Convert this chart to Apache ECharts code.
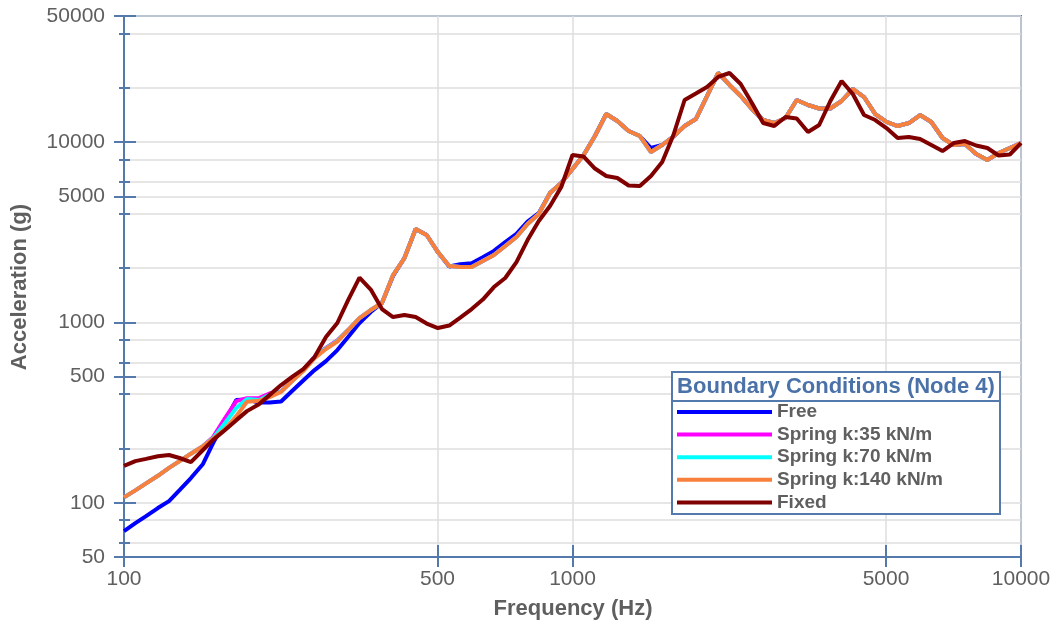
<!DOCTYPE html>
<html><head><meta charset="utf-8">
<script src="https://cdn.jsdelivr.net/npm/echarts@6/dist/echarts.min.js"></script>
<style>html,body{margin:0;padding:0;background:#fff}#c{width:1054px;height:625px}</style>
</head><body><div id="c"></div>
<script>
// Frequency points (Hz), 1/40-decade spacing
const freq = [100,106,112,119,126,133,141,150,158,168,178,188,200,211,224,237,251,266,282,299,316,335,355,376,398,422,447,473,501,531,562,596,631,668,708,750,794,841,891,944,1000,1059,1122,1189,1259,1334,1413,1496,1585,1679,1778,1884,1995,2113,2239,2371,2512,2661,2818,2985,3162,3350,3548,3758,3981,4217,4467,4732,5012,5309,5623,5957,6310,6683,7079,7499,7943,8414,8913,9441,10000];

const free = [69.6,77.1,84.3,93.4,102,117.5,137,164,214,284,
  371,373,359,359,364,416,476,544,610,702,
  829,992,1141,1280,1810,2274,3293,3051,2455,2040,
  2100,2130,2300,2490,2790,3100,3620,4030,5216,5927,
  7087,8476,10800,14300,13080,11510,10800,9266,9627,10730,
  12270,13420,18000,24150,20720,18000,15250,13250,12750,13590,
  17110,16050,15350,15350,16890,19690,17770,14300,12920,12270,
  12750,14120,12920,10530,9627,9752,8583,7952,8695,9266,9876];

const spring35 = [107,117,128,141,156,170,187,206,231,295,
  366,380,380,403,414,473,545,645,722,795,
  907,1057,1171,1280,1830,2274,3293,3051,2455,2053,
  2027,2027,2189,2363,2651,2974,3511,3989,5216,5927,
  7087,8476,10800,14300,13080,11510,10800,8804,9627,10730,
  12270,13420,18000,24150,20720,18000,15250,13250,12750,13590,
  17110,16050,15350,15350,16890,19690,17770,14300,12920,12270,
  12750,14120,12920,10530,9627,9752,8583,7952,8695,9266,9876];

const spring70 = [107,117,128,141,156,170,187,206,228,277,
  335,376,371,395,413,473,541,640,718,790,
  907,1057,1171,1280,1830,2274,3293,3051,2455,2053,
  2027,2027,2189,2363,2651,2974,3511,3989,5216,5927,
  7087,8476,10800,14300,13080,11510,10800,8804,9627,10730,
  12270,13420,18000,24150,20720,18000,15250,13250,12750,13590,
  17110,16050,15350,15350,16890,19690,17770,14300,12920,12270,
  12750,14120,12920,10530,9627,9752,8583,7952,8695,9266,9876];

const spring140 = [107,117,128,141,156,170,187,206,227,256,
  302,363,368,385,412,473,537,634,712,783,
  907,1057,1171,1280,1830,2274,3293,3051,2455,2053,
  2027,2027,2189,2363,2651,2974,3511,3989,5216,5927,
  7087,8476,10800,14300,13080,11510,10800,8804,9627,10730,
  12270,13420,18000,24150,20720,18000,15250,13250,12750,13590,
  17110,16050,15350,15350,16890,19690,17770,14300,12920,12270,
  12750,14120,12920,10530,9627,9752,8583,7952,8695,9266,9876];

const fixed = [160,170,175,181,184,177,168,196,223,253,
  287,322,352,395,449,498,551,642,829,992,
  1330,1773,1521,1186,1070,1098,1070,985,930,960,
  1064,1186,1338,1570,1762,2161,2862,3648,4418,5631,
  8476,8313,7133,6480,6317,5741,5704,6480,7749,10940,
  17110,18590,20200,22950,24150,20990,16460,12750,12270,13760,
  13500,11360,12430,16890,21800,18470,14120,13250,11960,10530,
  10660,10390,9627,8916,9876,10130,9568,9266,8421,8528,9876];

const seriesNames = ['Free','Spring k:35 kN/m','Spring k:70 kN/m','Spring k:140 kN/m','Fixed'];
const seriesColors = ['#0000ff','#ff00ff','#00ffff','#f8803c','#800000'];
const seriesValues = [free, spring35, spring70, spring140, fixed];

const xTickValues = [100,500,1000,5000,10000];
const yLabelValues = [50,100,500,1000,5000,10000,50000];
const yMinorValues = [60,80,200,400,600,800,2000,4000,6000,8000,20000,40000];
const xMin = 100, xMax = 10000, yMin = 50, yMax = 50000;

const FONT = '"Liberation Sans", Arial, sans-serif';
const AXIS_BLUE = '#5479ad';
const GRID_GREY = '#dedede';
const TEXT_GREY = '#5f5f5f';

const lx0 = Math.log10(xMin), lx1 = Math.log10(xMax);
const ly0 = Math.log10(yMin), ly1 = Math.log10(yMax);
const lg = a => a.map(v => Math.log10(v));
const fmt = v => String(Math.round(Math.pow(10, v)));

const chart = echarts.init(document.getElementById('c'), null, {renderer: 'canvas'});
const yGridValues = yLabelValues.concat(yMinorValues).sort((a, b) => a - b);

const option = {
  animation: false,
  backgroundColor: '#fff',
  textStyle: {fontFamily: FONT},
  grid: {left: 124, right: 33, top: 16, bottom: 68, show: true, borderColor: AXIS_BLUE, borderWidth: 2, containLabel: false, outerBoundsMode: 'none'},
  xAxis: [
    {type: 'log', logBase: 10, min: xMin, max: xMax, show: false},
    {type: 'value', min: lx0, max: lx1, position: 'bottom',
      axisLine: {show: true, lineStyle: {color: AXIS_BLUE, width: 2}},
      axisTick: {show: false, customValues: lg(xTickValues)},
      splitLine: {show: true, lineStyle: {color: GRID_GREY, width: 1.5}},
      axisLabel: {customValues: lg(xTickValues), formatter: fmt, margin: 12, fontSize: 21, color: TEXT_GREY, fontFamily: FONT}},
    {type: 'value', min: lx0, max: lx1, position: 'bottom', offset: -12,
      axisLine: {show: false}, splitLine: {show: false}, axisLabel: {show: false},
      axisTick: {show: true, customValues: lg(xTickValues), length: 22, lineStyle: {color: AXIS_BLUE, width: 2}}}
  ],
  yAxis: [
    {type: 'log', logBase: 10, min: yMin, max: yMax, show: false},
    {type: 'value', min: ly0, max: ly1, position: 'left',
      axisLine: {show: true, lineStyle: {color: AXIS_BLUE, width: 2}},
      axisTick: {show: false, customValues: lg(yGridValues)},
      splitLine: {show: true, lineStyle: {color: GRID_GREY, width: 1.5}},
      axisLabel: {customValues: lg(yLabelValues), formatter: fmt, margin: 19, fontSize: 21, color: TEXT_GREY, fontFamily: FONT}},
    {type: 'value', min: ly0, max: ly1, position: 'left', offset: -12,
      axisLine: {show: false}, splitLine: {show: false}, axisLabel: {show: false},
      axisTick: {show: true, customValues: lg(yLabelValues), length: 22, lineStyle: {color: AXIS_BLUE, width: 2}}},
    {type: 'value', min: ly0, max: ly1, position: 'left', offset: -6,
      axisLine: {show: false}, splitLine: {show: false}, axisLabel: {show: false},
      axisTick: {show: true, customValues: lg(yMinorValues), length: 11, lineStyle: {color: AXIS_BLUE, width: 2}}}
  ],
  legend: {
    orient: 'vertical', left: 677, top: 402.5, padding: 0, itemGap: 3.6,
    itemWidth: 95, itemHeight: 4, icon: 'rect', z: 10,
    data: seriesNames,
    textStyle: {fontSize: 19, fontWeight: 'bold', color: TEXT_GREY, fontFamily: FONT, lineHeight: 19}
  },
  graphic: [
    {type: 'rect', z: 5, shape: {x: 672, y: 372, width: 328, height: 142}, style: {fill: '#fff', stroke: AXIS_BLUE, lineWidth: 2}},
    {type: 'line', z: 6, shape: {x1: 672, y1: 401, x2: 1000, y2: 401}, style: {stroke: AXIS_BLUE, lineWidth: 2}},
    {type: 'text', z: 6, x: 836, y: 387, style: {text: 'Boundary Conditions (Node 4)', fill: '#4a72a8', font: 'bold 22px ' + FONT, textAlign: 'center', textVerticalAlign: 'middle'}},
    {type: 'text', z: 6, x: 20, y: 287, rotation: Math.PI / 2, style: {text: 'Acceleration (g)', fill: TEXT_GREY, font: 'bold 22px ' + FONT, textAlign: 'center', textVerticalAlign: 'middle'}},
    {type: 'text', z: 6, x: 573, y: 609, style: {text: 'Frequency (Hz)', fill: TEXT_GREY, font: 'bold 22px ' + FONT, textAlign: 'center', textVerticalAlign: 'middle'}}
  ],
  series: seriesNames.map((name, i) => ({
    name: name, type: 'line', xAxisIndex: 0, yAxisIndex: 0,
    data: freq.map((f, k) => [f, seriesValues[i][k]]),
    showSymbol: false, symbol: 'none', smooth: false,
    color: seriesColors[i],
    lineStyle: {color: seriesColors[i], width: 4},
    z: 2 + i
  }))
};
chart.setOption(option);
</script></body></html>
